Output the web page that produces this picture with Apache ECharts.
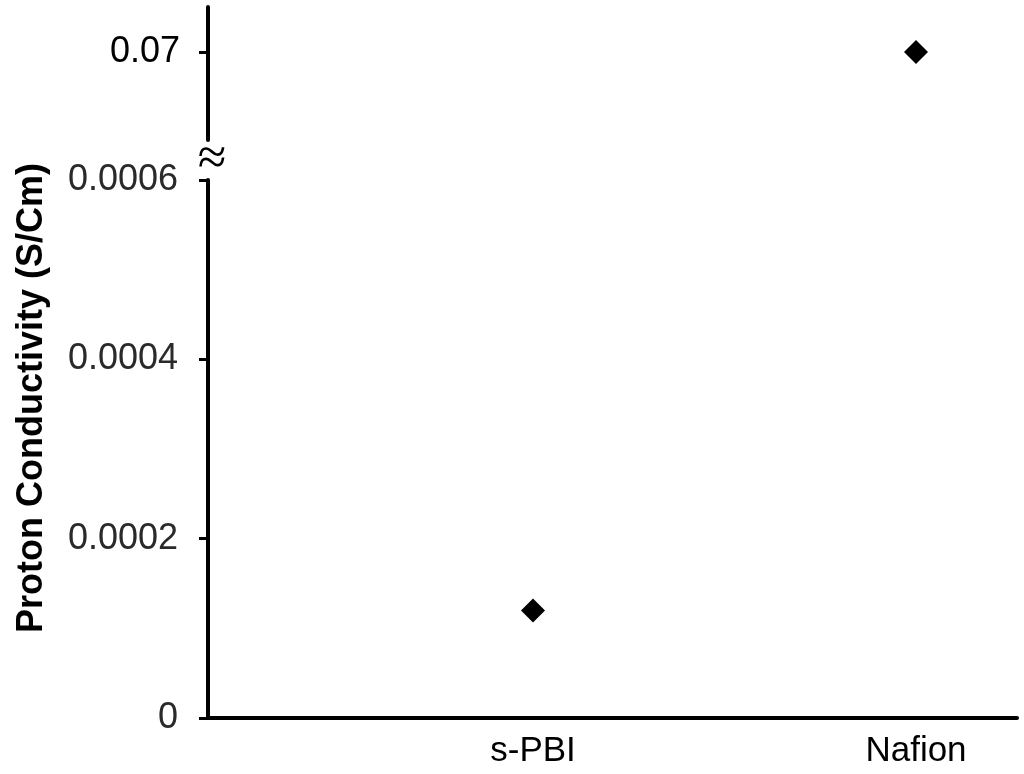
<!DOCTYPE html>
<html>
<head>
<meta charset="utf-8">
<script src="https://cdn.jsdelivr.net/npm/echarts@6/dist/echarts.min.js"></script>
<style>html,body{margin:0;padding:0;background:#fff}#c{width:1024px;height:774px}</style>
</head>
<body>
<div id="c"></div>
<script>
const categories = ['s-PBI', 'Nafion'];
const conductivity = [0.00012, 0.07];
const lowerTicks = [0, 0.0002, 0.0004, 0.0006];
const upperTicks = [0.07];
const yTitle = 'Proton Conductivity (S/Cm)';

const xPos = categories.map((c, i) => i + 1);
const lowerData = [], upperData = [];
conductivity.forEach((v, i) => {
  if (v <= 0.0006) lowerData.push([xPos[i], v]); else upperData.push([xPos[i], v]);
});

const FONT = 'Liberation Sans, Arial, sans-serif';
const chart = echarts.init(document.getElementById('c'));
const axisLineStyle = { color: '#000', width: 4 };

chart.setOption({
  animation: false,
  grid: [
    { left: 208, top: 180, width: 809, height: 538 },
    { left: 208, top: 7, width: 809, height: 133 }
  ],
  xAxis: [
    {
      type: 'value', gridIndex: 0, min: 0.1514, max: 2.2637,
      axisLine: { show: true, onZero: false, lineStyle: axisLineStyle },
      axisTick: { show: false },
      splitLine: { show: false },
      axisLabel: {
        customValues: xPos,
        formatter: v => categories[Math.round(v) - 1] || '',
        fontSize: 35, color: '#000', fontFamily: FONT, margin: 16
      }
    },
    {
      type: 'value', gridIndex: 1, min: 0.1514, max: 2.2637, show: false
    }
  ],
  yAxis: [
    {
      type: 'value', gridIndex: 0, min: lowerTicks[0], max: lowerTicks[lowerTicks.length - 1], interval: 0.0002,
      axisLine: { show: true, lineStyle: axisLineStyle },
      axisTick: { show: true, length: 9, lineStyle: { color: '#000', width: 3 } },
      splitLine: { show: false },
      axisLabel: {
        formatter: v => v === 0 ? '0' : v.toFixed(4),
        fontSize: 36, color: '#2a2a2a', fontFamily: FONT, margin: 30
      }
    },
    {
      type: 'value', gridIndex: 1, min: 0.0612, max: 0.0745,
      axisLine: { show: true, lineStyle: axisLineStyle },
      axisTick: { show: true, length: 9, customValues: upperTicks, lineStyle: { color: '#000', width: 3 } },
      splitLine: { show: false },
      axisLabel: {
        customValues: upperTicks,
        formatter: v => v.toFixed(2),
        fontSize: 36, color: '#000', fontFamily: FONT, margin: 28
      }
    }
  ],
  graphic: [
    {
      type: 'text', x: 32, y: 398, rotation: Math.PI / 2,
      style: { text: yTitle, fontSize: 36, fontWeight: 'bold', fill: '#000', fontFamily: FONT, align: 'center', verticalAlign: 'middle' }
    },
    {
      type: 'text', x: 212, y: 160,
      style: { text: '≈', fontSize: 52, fill: '#000', fontFamily: 'Liberation Serif', align: 'center', verticalAlign: 'middle' }
    }
  ],
  series: [
    {
      type: 'scatter', xAxisIndex: 0, yAxisIndex: 0, data: lowerData,
      symbol: 'diamond', symbolSize: 24, itemStyle: { color: '#000', opacity: 1 }
    },
    {
      type: 'scatter', xAxisIndex: 1, yAxisIndex: 1, data: upperData,
      symbol: 'diamond', symbolSize: 24, itemStyle: { color: '#000', opacity: 1 }
    }
  ]
});
</script>
</body>
</html>
